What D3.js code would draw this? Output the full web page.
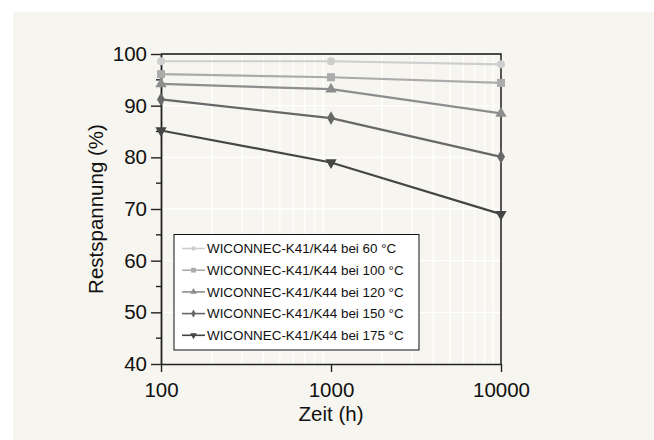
<!DOCTYPE html>
<html>
<head>
<meta charset="utf-8">
<script src="https://cdn.jsdelivr.net/npm/d3@7.9.0/dist/d3.min.js"></script>
<style>
  body { margin: 0; background: #fff; }
  svg { display: block; font-family: 'Liberation Sans', Arial, sans-serif; }
</style>
</head>
<body>
<div id="chart"></div>
<script>
const times = [100, 1000, 10000];
const xTicks = [100, 1000, 10000];
const yTicks = [40, 50, 60, 70, 80, 90, 100];
const labels = [
  'WICONNEC-K41/K44 bei 60 °C',
  'WICONNEC-K41/K44 bei 100 °C',
  'WICONNEC-K41/K44 bei 120 °C',
  'WICONNEC-K41/K44 bei 150 °C',
  'WICONNEC-K41/K44 bei 175 °C',
];
const rest60 = [98.6, 98.6, 98.0];
const rest100 = [96.1, 95.5, 94.4];
const rest120 = [94.2, 93.2, 88.5];
const rest150 = [91.2, 87.6, 80.1];
const rest175 = [85.2, 79.0, 69.0];

const seriesValues = [rest60, rest100, rest120, rest150, rest175];
const colors = ['#cecece', '#ababab', '#8d8d8d', '#686868', '#454545'];
const shapes = [d3.symbolCircle, d3.symbolSquare, d3.symbolTriangle, d3.symbolDiamond, d3.symbolTriangle];
const rotations = [0, 0, 0, 0, 180];
const sizes = [50, 64, 55, 55, 55];

const width = 654;
const height = 440;
const margin = { top: 54, right: 153, bottom: 76, left: 161 };

const svg = d3.select('#chart')
  .append('svg')
  .attr('width', width)
  .attr('height', height);

svg.append('rect')
  .attr('x', 13).attr('y', 12)
  .attr('width', width - 13).attr('height', height - 12)
  .attr('fill', '#f7f5ef');

const xScale = d3.scaleLog()
  .domain([100, 10000])
  .range([margin.left, width - margin.right]);
const yScale = d3.scaleLinear()
  .domain([40, 100])
  .range([height - margin.bottom, margin.top]);

// gridlines
const grid = svg.append('g').attr('class', 'gridlines')
  .attr('stroke', '#ffffff').attr('stroke-width', 1.4);
const minorX = d3.range(2, 10).flatMap(m => [m * 100, m * 1000]);
grid.selectAll('line.vx')
  .data(minorX)
  .join('line')
  .attr('x1', d => xScale(d)).attr('x2', d => xScale(d))
  .attr('y1', yScale(40)).attr('y2', yScale(100));
grid.selectAll('line.hy')
  .data(yTicks.slice(1, -1))
  .join('line')
  .attr('class', 'hy')
  .attr('x1', xScale(100)).attr('x2', xScale(10000))
  .attr('y1', d => yScale(d)).attr('y2', d => yScale(d));

// frame top and right
svg.append('path')
  .attr('d', `M${xScale(100)},${yScale(100)}H${xScale(10000)}V${yScale(40)}`)
  .attr('fill', 'none').attr('stroke', '#111').attr('stroke-width', 1.4);

// axes
const xAxis = svg.append('g')
  .attr('transform', `translate(0,${yScale(40)})`)
  .call(d3.axisBottom(xScale).tickValues(xTicks).tickFormat(d3.format('d')).tickSize(8).tickSizeOuter(0));
xAxis.select('.domain').attr('stroke', '#222').attr('stroke-width', 1.6);
xAxis.selectAll('.tick line').attr('stroke', '#222').attr('stroke-width', 1.4);
xAxis.selectAll('.tick text')
  .attr('y', 18).attr('dy', '0.71em')
  .attr('font-size', 20.5).attr('fill', '#111');

const yAxis = svg.append('g')
  .attr('transform', `translate(${xScale(100)},0)`)
  .call(d3.axisLeft(yScale).tickValues(yTicks).tickSize(10).tickSizeOuter(0).tickPadding(4));
yAxis.select('.domain').attr('stroke', '#222').attr('stroke-width', 1.8);
yAxis.selectAll('.tick line').attr('stroke', '#222').attr('stroke-width', 1.4);
yAxis.selectAll('.tick text').attr('font-size', 20.5).attr('fill', '#111');

svg.append('g')
  .selectAll('line')
  .data(d3.range(45, 100, 10))
  .join('line')
  .attr('x1', xScale(100) - 5).attr('x2', xScale(100))
  .attr('y1', d => yScale(d)).attr('y2', d => yScale(d))
  .attr('stroke', '#222').attr('stroke-width', 1.4);

// axis titles
svg.append('text')
  .attr('x', xScale(1000)).attr('y', 421)
  .attr('text-anchor', 'middle')
  .attr('font-size', 20.5).attr('fill', '#111')
  .text('Zeit (h)');
svg.append('text')
  .attr('transform', `translate(103,${(yScale(40) + yScale(100)) / 2}) rotate(-90)`)
  .attr('text-anchor', 'middle')
  .attr('font-size', 20.5).attr('fill', '#111')
  .text('Restspannung (%)');

// series
const line = d3.line()
  .x((d, i) => xScale(times[i]))
  .y(d => yScale(d));

seriesValues.forEach((vals, s) => {
  const g = svg.append('g');
  g.append('path')
    .attr('d', line(vals))
    .attr('fill', 'none')
    .attr('stroke', colors[s])
    .attr('stroke-width', 2.2);
  g.selectAll('path.pt')
    .data(vals)
    .join('path')
    .attr('class', 'pt')
    .attr('transform', (d, i) => `translate(${xScale(times[i])},${yScale(d)}) rotate(${rotations[s]})`)
    .attr('d', d3.symbol().type(shapes[s]).size(sizes[s]))
    .attr('fill', colors[s]);
});

// legend
const legend = svg.append('g');
legend.append('rect')
  .attr('x', 174).attr('y', 234.5)
  .attr('width', 245).attr('height', 115.5)
  .attr('fill', '#fff').attr('stroke', '#111').attr('stroke-width', 1);

labels.forEach((lab, s) => {
  const y = 248.5 + s * 21.7;
  legend.append('line')
    .attr('x1', 182).attr('x2', 205)
    .attr('y1', y).attr('y2', y)
    .attr('stroke', colors[s]).attr('stroke-width', 1.6);
  legend.append('path')
    .attr('transform', `translate(193.5,${y}) rotate(${rotations[s]})`)
    .attr('d', d3.symbol().type(shapes[s]).size(sizes[s] * 0.35))
    .attr('fill', colors[s]);
  legend.append('text')
    .attr('x', 207).attr('y', y)
    .attr('dy', '0.36em')
    .attr('font-size', 13.4).attr('fill', '#111')
    .text(lab);
});
</script>
</body>
</html>
